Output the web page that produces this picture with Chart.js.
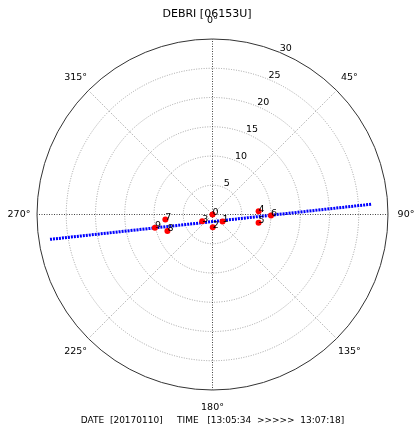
<!DOCTYPE html>
<html>
<head>
<meta charset="utf-8">
<script src="https://cdn.jsdelivr.net/npm/chart.js@4"></script>
<style>
  body { margin: 0; background: #fff; }
  #wrap { width: 414px; height: 433px; position: relative; }
</style>
</head>
<body>
<div id="wrap"><canvas id="polarChart"></canvas></div>
<script>
const titleText = 'DEBRI [06153U]';
const footerText = 'DATE  [20170110]     TIME   [13:05:34  >>>>>  13:07:18]';

// points: angle in degrees (0 = north, clockwise), radius
const pointLabels = ['0', '1', '2', '3', '4', '5', '6', '7', '8', '9'];
const pointAngles = [0, 125, 179, 237, 86, 100, 91, 264, 250, 257];
const pointRadii = [0, 2.1, 2.2, 2.1, 7.9, 8.0, 10.0, 8.1, 8.2, 10.1];

// blue track, end to end
const trackAngles = [261.3, 86.3];
const trackRadii = [28.1, 27.2];

const radialTicks = [5, 10, 15, 20, 25, 30];
const angleTicks = [0, 45, 90, 135, 180, 225, 270, 315];
const rMax = 30;

function toXY(angles, radii) {
    return angles.map((a, i) => {
        const t = a * Math.PI / 180;
        return { x: radii[i] * Math.sin(t), y: radii[i] * Math.cos(t) };
    });
}

const polarGrid = {
    id: 'polarGrid',
    beforeDatasetsDraw(chart) {
        const ctx = chart.ctx;
        const xs = chart.scales.x, ys = chart.scales.y;
        const cx = xs.getPixelForValue(0), cy = ys.getPixelForValue(0);
        const rpx = v => xs.getPixelForValue(v) - cx;
        const R = rpx(rMax);
        ctx.save();
        ctx.lineWidth = 1;

        // rings
        ctx.strokeStyle = '#a0a0a0';
        ctx.setLineDash([1, 1.5]);
        radialTicks.filter(v => v < rMax).forEach(v => {
            ctx.beginPath();
            ctx.arc(cx, cy, rpx(v), 0, Math.PI * 2);
            ctx.stroke();
        });

        // spokes
        angleTicks.forEach(a => {
            const t = a * Math.PI / 180;
            ctx.strokeStyle = (a % 90 === 0) ? '#444' : '#a0a0a0';
            ctx.beginPath();
            ctx.moveTo(cx, cy);
            ctx.lineTo(cx + R * Math.sin(t), cy - R * Math.cos(t));
            ctx.stroke();
        });

        // outer circle
        ctx.setLineDash([]);
        ctx.strokeStyle = '#333';
        ctx.beginPath();
        ctx.arc(cx, cy, R, 0, Math.PI * 2);
        ctx.stroke();

        ctx.fillStyle = '#000';
        // radial tick labels along 22.5 deg
        ctx.font = '9.5px "DejaVu Sans"';
        ctx.textAlign = 'left';
        ctx.textBaseline = 'alphabetic';
        const t0 = 22.5 * Math.PI / 180;
        radialTicks.forEach(v => {
            const r = rpx(v);
            ctx.fillText(String(v), cx + r * Math.sin(t0), cy - r * Math.cos(t0) - 1);
        });

        // angle labels
        ctx.textAlign = 'center';
        ctx.textBaseline = 'middle';
        angleTicks.forEach(a => {
            const t = a * Math.PI / 180;
            const r = R + 18;
            ctx.fillText(a + '°', cx + r * Math.sin(t), cy - r * Math.cos(t));
        });
        ctx.restore();
    },
    afterDatasetsDraw(chart) {
        const ctx = chart.ctx;
        ctx.save();
        ctx.fillStyle = '#000';
        ctx.font = '9.5px "DejaVu Sans"';
        ctx.textAlign = 'left';
        ctx.textBaseline = 'alphabetic';
        const meta = chart.getDatasetMeta(0);
        meta.data.forEach((el, i) => {
            ctx.fillText(pointLabels[i], el.x, el.y + 0.5);
        });

        ctx.textAlign = 'center';
        ctx.textBaseline = 'middle';
        ctx.font = '11px "DejaVu Sans"';
        ctx.fillText(titleText, chart.width / 2, 14);
        ctx.font = '9px "DejaVu Sans"';
        const cx = chart.scales.x.getPixelForValue(0);
        ctx.fillText(footerText, cx, 421);
        ctx.restore();
    }
};

new Chart(document.getElementById('polarChart').getContext('2d'), {
    type: 'scatter',
    data: {
        datasets: [{
            label: 'points',
            data: toXY(pointAngles, pointRadii),
            backgroundColor: '#ff0000',
            borderColor: '#ff0000',
            pointRadius: 3,
            pointBorderWidth: 0,
            order: 0
        }, {
            label: 'track',
            data: toXY(trackAngles, trackRadii),
            showLine: true,
            borderColor: '#0000ff',
            borderWidth: 3,
            borderDash: [2, 1],
            pointRadius: 0,
            order: 1
        }]
    },
    plugins: [polarGrid],
    options: {
        responsive: true,
        maintainAspectRatio: false,
        animation: false,
        layout: { padding: { left: 37, right: 26, top: 39, bottom: 43 } },
        scales: {
            x: { type: 'linear', min: -rMax, max: rMax, display: false },
            y: { type: 'linear', min: -rMax, max: rMax, display: false }
        },
        plugins: {
            legend: { display: false },
            tooltip: { enabled: false }
        }
    }
});
</script>
</body>
</html>
